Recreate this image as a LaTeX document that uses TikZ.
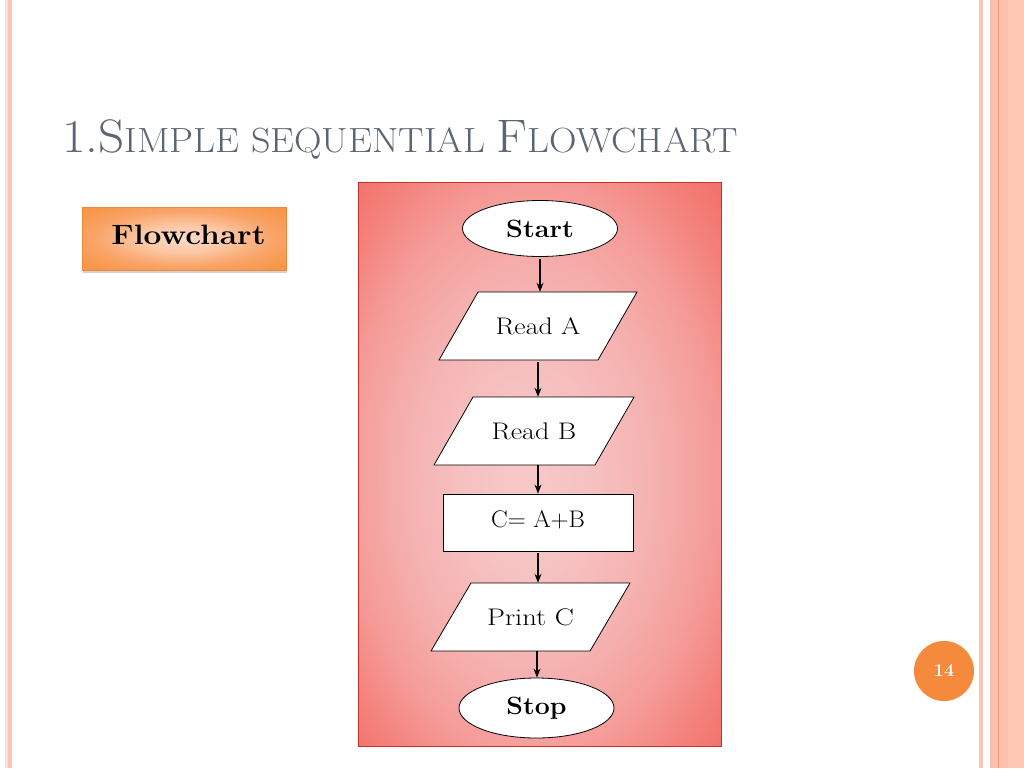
\documentclass[tikz,border=0pt]{standalone}
\usepackage{fontspec}
\usepackage{graphicx}
\usetikzlibrary{shapes.geometric,arrows.meta,shadows}
\newcommand\xw[2]{\scalebox{#1}[1]{#2}}
\definecolor{titlegray}{HTML}{5B6573}
\definecolor{borderA}{HTML}{FBC4B6}
\definecolor{borderB}{HTML}{F8E2D6}
\definecolor{borderC}{HTML}{FDC9B5}
\definecolor{borderD}{HTML}{E49A78}
\definecolor{borderE}{HTML}{FBC0AB}
\definecolor{orangeEdge}{HTML}{F0873A}
\definecolor{redEdge}{HTML}{C8302C}
\definecolor{numorange}{HTML}{F68A3C}
\pgfdeclareradialshading{panelshade}{\pgfpoint{-2bp}{-2bp}}{%
  color(0bp)=(rgb,255:red,247;green,200;blue,200);
  color(8bp)=(rgb,255:red,246;green,194;blue,194);
  color(18bp)=(rgb,255:red,245;green,176;blue,174);
  color(25bp)=(rgb,255:red,245;green,156;blue,152);
  color(31bp)=(rgb,255:red,244;green,130;blue,124);
  color(36bp)=(rgb,255:red,242;green,112;blue,106);
  color(50bp)=(rgb,255:red,242;green,112;blue,106)}
\pgfdeclareradialshading{boxshade}{\pgfpoint{0bp}{0bp}}{%
  color(0bp)=(rgb,255:red,253;green,220;blue,204);
  color(11bp)=(rgb,255:red,252;green,198;blue,162);
  color(22bp)=(rgb,255:red,249;green,164;blue,104);
  color(32bp)=(rgb,255:red,247;green,150;blue,72);
  color(50bp)=(rgb,255:red,247;green,150;blue,72)}
\begin{document}
\begin{tikzpicture}[x=1pt,y=-1pt,
  term/.style={ellipse,draw=black,line width=0.8pt,fill=white,minimum width=155pt,minimum height=56pt,inner sep=0pt,font=\fontsize{25}{28}\selectfont\bfseries},
  iotext/.style={rectangle,minimum width=150pt,minimum height=68pt,inner sep=0pt,font=\fontsize{24}{27}\selectfont},
  iofill/.style={draw=black,line width=0.8pt,fill=white},
  procbox/.style={rectangle,draw=black,line width=0.8pt,fill=white,minimum width=190pt,minimum height=57pt,inner sep=0pt,font=\fontsize{24}{27}\selectfont},
  arr/.style={-{Stealth[length=9pt,width=7pt]},line width=1.1pt}]
\useasboundingbox (0,0) rectangle (1024,768);
\fill[white] (0,0) rectangle (1024,768);
% page borders
\fill[borderB] (5,0) rectangle (8,768);
\fill[borderA] (8,0) rectangle (12,768);
\fill[borderA] (979,0) rectangle (983,768);
\fill[borderE] (990,0) rectangle (1008,768);
\fill[borderC] (1008,0) rectangle (1024,768);
\fill[borderD] (997.5,0) rectangle (998.8,768);
% title
\node[anchor=base west,text=titlegray,inner sep=0pt] (title) at (62,152)
  {\xw{1.09}{\fontsize{47}{50}\selectfont 1.S\fontsize{35}{40}\selectfont IMPLE SEQUENTIAL \fontsize{47}{50}\selectfont F\fontsize{35}{40}\selectfont LOWCHART}};
% Flowchart label box
\node[rectangle,draw=orangeEdge,line width=0.8pt,shading=boxshade,
  drop shadow={shadow xshift=1pt,shadow yshift=-3pt,opacity=0.35},
  minimum width=204pt,minimum height=63pt,inner sep=0pt,
  font=\fontsize{28}{30}\selectfont\bfseries] (fc) at (184,238.5) {\raisebox{7pt}{\hspace*{9pt}\xw{1.13}{Flowchart}}};
% red panel
\node[rectangle,draw=redEdge,line width=0.8pt,shading=panelshade,
  minimum width=363pt,minimum height=564pt,inner sep=0pt] (panel) at (539.5,464) {};
% parallelogram outlines
\filldraw[iofill] (538,326) ++(-99,34) -- ++(159,0) -- ++(39,-68) -- ++(-159,0) -- cycle;
\filldraw[iofill] (534,431) ++(-100,34) -- ++(161,0) -- ++(39,-68) -- ++(-161,0) -- cycle;
\filldraw[iofill] (530.5,617) ++(-99.5,34) -- ++(159,0) -- ++(40,-68) -- ++(-159,0) -- cycle;
% flowchart nodes
\node[term] (start) at (540,228.5) {\xw{1.08}{Start}};
\node[iotext] (ra) at (538,326) {\xw{1.16}{Read A}};
\node[iotext] (rb) at (534,431) {\xw{1.17}{Read B}};
\node[procbox] (c) at (538,522.5) {\raisebox{6pt}{\xw{1.04}{C= A+B}}};
\node[iotext] (pc) at (530.5,617) {\xw{1.19}{Print C}};
\node[term,minimum height=60pt] (stop) at (536.5,708) {\xw{1.07}{Stop}};
\draw[arr] (start.south) ++(0,2) coordinate (s0) -- (s0 |- ra.north);
\draw[arr] (ra.south) ++(0,2) coordinate (s1) -- (s1 |- rb.north);
\draw[arr] (rb.south) ++(4,0) coordinate (s2) -- (s2 |- c.north);
\draw[arr] (c.south) ++(0,2) coordinate (s3) -- (s3 |- pc.north);
\draw[arr] (pc.south) ++(6.5,0) coordinate (s4) -- (s4 |- stop.north);
% page number
\node[circle,fill=numorange,minimum size=60pt,inner sep=0pt,text=white,
  font=\fontsize{18}{20}\selectfont\bfseries] (pg) at (944,671) {14};
\end{tikzpicture}
\end{document}
